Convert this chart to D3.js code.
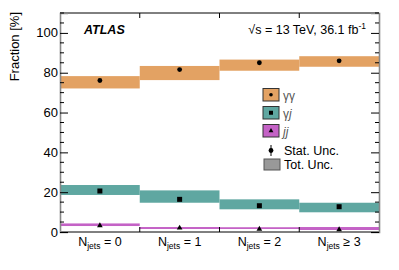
<!DOCTYPE html>
<html><head><meta charset="utf-8">
<script src="https://cdn.jsdelivr.net/npm/d3@7"></script>
<style>body{margin:0;background:#fff}svg{font-family:"Liberation Sans",Arial,sans-serif}</style>
</head><body><svg id="c" width="399" height="270"></svg>
<script>
const categories = ["0", "1", "2", "≥ 3"];
const yyVal = [76.1, 81.6, 85.0, 86.0];
const yyLo  = [72.1, 76.3, 81.0, 83.0];
const yyHi  = [78.3, 83.4, 86.6, 88.3];
const yjVal = [20.6, 16.4, 13.2, 12.7];
const yjLo  = [18.6, 14.7, 11.4, 9.9];
const yjHi  = [23.6, 20.9, 16.4, 14.7];
const jjVal = [3.0, 1.8, 1.2, 1.0];
const jjLo  = [3.0, 1.5, 1.5, 1.0];
const jjHi  = [4.3, 2.5, 2.4, 2.5];
const yTicks = [0, 20, 40, 60, 80, 100];

const svg = d3.select("#c");
const L = 60, R = 379, T = 13, B = 232;
const x = d3.scaleBand().domain(categories).range([L, R]).padding(0);
const y = d3.scaleLinear().domain([0, 110]).range([B, T]);

const series = [
  {v: yyVal, lo: yyLo, hi: yyHi, col: "#e3a263", m: "circle"},
  {v: yjVal, lo: yjLo, hi: yjHi, col: "#5fa7a1", m: "square"},
  {v: jjVal, lo: jjLo, hi: jjHi, col: "#c462c6", m: "triangle"}
];

series.forEach(s => {
  svg.append("g").selectAll("rect").data(categories).join("rect")
    .attr("x", d => x(d)).attr("width", x.bandwidth())
    .attr("y", (d, i) => y(s.hi[i])).attr("height", (d, i) => y(s.lo[i]) - y(s.hi[i]))
    .attr("fill", s.col);
});
series.forEach(s => {
  const g = svg.append("g");
  categories.forEach((c, i) => {
    const cx = x(c) + x.bandwidth() / 2, cy = y(s.v[i]);
    if (s.m === "circle") g.append("circle").attr("cx", cx).attr("cy", cy).attr("r", 2.4).attr("fill", "#000");
    else if (s.m === "square") g.append("rect").attr("x", cx - 2.5).attr("y", cy - 2.5).attr("width", 5).attr("height", 5).attr("fill", "#000");
    else g.append("path").attr("d", d3.symbol(d3.symbolTriangle, 14)()).attr("transform", `translate(${cx},${cy - 0.5})`).attr("fill", "#000");
  });
});

// frame
svg.append("line").attr("x1", L).attr("x2", R).attr("y1", T).attr("y2", T).attr("stroke", "#000").attr("stroke-width", 1);
svg.append("line").attr("x1", L).attr("x2", R).attr("y1", B).attr("y2", B).attr("stroke", "#000").attr("stroke-width", 1);

// left axis
const yl = svg.append("g").attr("transform", `translate(${L},0)`)
  .call(d3.axisRight(y).tickValues(yTicks).tickSize(8).tickFormat(""));
yl.select(".domain").attr("stroke", "#888").attr("stroke-width", 1.6);
const minor = d3.range(0, 111, 5).filter(v => v % 20 !== 0);
yl.selectAll(".mn").data(minor).join("line").attr("x1", 0).attr("x2", 4)
  .attr("y1", d => y(d)).attr("y2", d => y(d)).attr("stroke", "#000");
svg.append("g").selectAll("text").data(yTicks).join("text")
  .attr("x", L - 2).attr("y", d => y(d) + 4.5).attr("text-anchor", "end")
  .attr("font-size", 13).attr("fill", "#000").text(d => d);

// right axis
const yr = svg.append("g").attr("transform", `translate(${R},0)`)
  .call(d3.axisLeft(y).tickValues(yTicks).tickSize(8).tickFormat(""));
yr.select(".domain").attr("stroke", "#888").attr("stroke-width", 1.6);
yr.selectAll(".mn").data(minor).join("line").attr("x1", 0).attr("x2", -4)
  .attr("y1", d => y(d)).attr("y2", d => y(d)).attr("stroke", "#000");

// top/bottom bin edge ticks
const edges = categories.slice(1).map(c => x(c));
svg.append("g").selectAll("line").data(edges).join("line")
  .attr("x1", d => d).attr("x2", d => d).attr("y1", T).attr("y2", T + 5).attr("stroke", "#000");
svg.append("g").selectAll("line").data(edges).join("line")
  .attr("x1", d => d).attr("x2", d => d).attr("y1", B).attr("y2", B - 5).attr("stroke", "#000");

// x labels
const xl = svg.append("g").selectAll("text").data(categories).join("text")
  .attr("x", d => x(d) + x.bandwidth() / 2).attr("y", 246).attr("text-anchor", "middle")
  .attr("font-size", 12.5).attr("fill", "#000");
xl.append("tspan").text("N");
xl.append("tspan").attr("font-size", 8.5).attr("dy", 3).text("jets");
xl.append("tspan").attr("dy", -3).text(d => " = ".replace("=", d.startsWith("≥") ? "≥" : "=") );
xl.append("tspan").text(d => d.replace("≥ ", ""));

// y title
svg.append("text").attr("transform", "translate(19,12) rotate(-90)").attr("text-anchor", "end")
  .attr("font-size", 13).attr("fill", "#000").text("Fraction [%]");

// labels
svg.append("text").attr("x", 84).attr("y", 34).attr("font-size", 12.5).attr("font-weight", "bold")
  .attr("font-style", "italic").attr("fill", "#000").text("ATLAS");
const en = svg.append("text").attr("x", 366).attr("y", 34).attr("text-anchor", "end").attr("font-size", 12.5).attr("fill", "#000");
en.append("tspan").text("√s = 13 TeV, 36.1 fb");
en.append("tspan").attr("font-size", 8.5).attr("dy", -5).text("-1");

// legend
const leg = [{t: "γγ", col: "#e3a263", m: "circle"}, {t: "γj", col: "#5fa7a1", m: "square"}, {t: "jj", col: "#c462c6", m: "triangle"}];
leg.forEach((d, i) => {
  const ly = 88.5 + i * 18;
  svg.append("rect").attr("x", 263).attr("y", ly).attr("width", 16).attr("height", 12.5)
    .attr("fill", d.col).attr("stroke", "#333").attr("stroke-width", 1);
  const cx = 271, cy = ly + 6.25;
  if (d.m === "circle") svg.append("circle").attr("cx", cx).attr("cy", cy).attr("r", 1.8).attr("fill", "#000");
  else if (d.m === "square") svg.append("rect").attr("x", cx - 2).attr("y", cy - 2).attr("width", 4).attr("height", 4).attr("fill", "#000");
  else svg.append("path").attr("d", d3.symbol(d3.symbolTriangle, 10)()).attr("transform", `translate(${cx},${cy})`).attr("fill", "#000");
  const t = svg.append("text").attr("x", 283).attr("y", ly + 11).attr("font-size", 12).attr("fill", "#555");
  if (i === 0) t.text("γγ");
  else if (i === 1) { t.append("tspan").text("γ"); t.append("tspan").attr("font-style", "italic").text("j"); }
  else t.append("tspan").attr("font-style", "italic").text("jj");
});
svg.append("line").attr("x1", 271).attr("x2", 271).attr("y1", 145).attr("y2", 156).attr("stroke", "#000").attr("stroke-width", 1);
svg.append("circle").attr("cx", 271).attr("cy", 150.5).attr("r", 2.4).attr("fill", "#000");
svg.append("text").attr("x", 284).attr("y", 155).attr("font-size", 12.5).attr("fill", "#000").text("Stat. Unc.");
svg.append("rect").attr("x", 264).attr("y", 159).attr("width", 16).attr("height", 11)
  .attr("fill", "#999").attr("stroke", "#555").attr("stroke-width", 1);
svg.append("text").attr("x", 284).attr("y", 169).attr("font-size", 12.5).attr("fill", "#000").text("Tot. Unc.");
</script></body></html>
